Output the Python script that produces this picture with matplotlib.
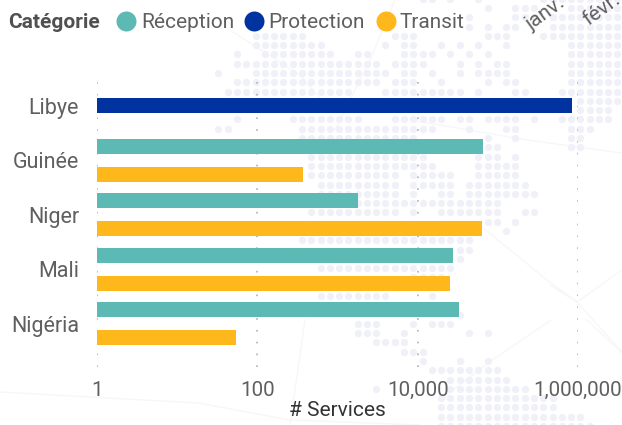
import matplotlib
matplotlib.use("Agg")
import matplotlib.pyplot as plt
from matplotlib.lines import Line2D
from matplotlib.ticker import FixedLocator, FixedFormatter

plt.rcParams['lines.scale_dashes'] = False
plt.rcParams['font.family'] = ['Roboto', 'DejaVu Sans']

categories = ["Libye", "Guinée", "Niger", "Mali", "Nigéria"]
reception = [None, 65000, 1800, 27500, 33000]
protection = [840000, None, None, None, None]
transit = [None, 370, 63000, 25000, 54]
x_ticks = [1, 100, 10000, 1000000]
x_tick_labels = ["1", "100", "10,000", "1,000,000"]
legend_title = "Catégorie"
series_names = ["Réception", "Protection", "Transit"]
top_labels = ["janv.", "févr."]
x_title = "# Services"

TEAL, BLUE, AMBER = "#5DB9B3", "#0033A0", "#FFB81C"
W, H = 622, 425

# decorative dot-map backdrop: row -> runs of columns
backdrop = {
    -1: [(1, 2), (4, 4), (7, 7), (14, 22)], 0: [(8, 8), (11, 13), (17, 22)],
    1: [(6, 6), (11, 13), (15, 22)], 2: [(6, 6), (8, 8), (10, 11), (15, 22)],
    3: [(-17, -12), (-2, 0), (8, 10), (14, 22)],
    4: [(-17, -10), (-3, -3), (-1, 0), (3, 3), (5, 5), (7, 7), (10, 10), (17, 22)],
    5: [(-19, -19), (-16, -9), (-6, -5), (-1, 2), (4, 4), (6, 6), (8, 8), (17, 22)],
    6: [(-19, -4), (-2, 1), (5, 5), (7, 7), (9, 10), (17, 22)],
    7: [(-21, -21), (-17, -3), (-1, 0), (2, 2), (5, 5), (7, 10), (17, 22)],
    8: [(-19, -4), (-2, 0), (3, 3), (8, 8), (10, 11), (17, 22)],
    9: [(-20, -7), (-3, 5), (7, 7), (11, 12), (16, 22)],
    10: [(18, 22)], 11: [(18, 21)],
    12: [(-19, -19), (-13, -6), (-2, 3), (5, 6), (8, 11), (13, 13), (16, 21)],
    13: [(-21, -20), (-12, 2), (6, 6), (10, 11), (17, 19)],
    14: [(-12, 0), (8, 8), (11, 11), (17, 18)], 15: [(8, 9), (17, 18)],
    16: [(-11, 1), (7, 9), (11, 11)], 17: [(-11, 2), (7, 11)],
    18: [(-11, -2), (0, 4), (7, 11)], 19: [(-10, -2), (0, 4), (6, 12)],
    20: [(-10, -2), (0, 0), (3, 4), (6, 13)], 21: [(-7, 9)],
    22: [(-11, -2), (0, 0), (3, 9), (12, 13)], 23: [(8, 9), (11, 11)],
    24: [(10, 10)], 25: [(-12, 6)], 26: [(5, 6)], 27: [(5, 5)],
    28: [(-10, 4)], 29: [(0, 3)], 31: [(-10, -3), (2, 2)], 33: [(5, 5)],
    34: [(-6, -4), (0, 0), (2, 4)], 35: [(-6, -4), (-1, -1), (6, 6), (8, 8)],
    36: [(-4, -1)], 37: [(-1, 1)], 38: [(1, 1), (5, 5), (8, 8)], 39: [(2, 9)],
    40: [(4, 10)], 41: [(-4, -4), (4, 12)], 42: [(3, 15)], 43: [(3, 15)],
    44: [(3, 18)], 45: [(3, 19)],
}
faint_paths = [
    ((0, 392), (198, 403), (290, 420), (420, 425)),
    ((305, 320), (290, 425)),
    ((551, 320), (488, 363), (440, 400)),
    ((587, 320), (622, 353)),
    ((550, 285), (577, 302), (622, 352)),
    ((622, 153), (527, 140), (410, 120)),
    ((482, 227), (547, 280), (577, 302)),
    ((230, 30), (300, 75), (330, 110)),
    ((335, 130), (370, 60), (395, 0)),
    ((577, 302), (622, 270)),
]

fig = plt.figure(figsize=(W / 100, H / 100), dpi=100, facecolor="white")


def to_fig(x, y):
    return x / W, 1 - y / H


for pts in faint_paths:
    xs, ys = zip(*[to_fig(*p) for p in pts])
    fig.add_artist(Line2D(xs, ys, color="#F7F7F7", lw=1.0, zorder=0))

dx, dy = [], []
for row, runs in backdrop.items():
    for a, b in runs:
        for j in range(a, b + 1):
            fx, fy = to_fig(413.3 + 9.28 * j, 8 + 9.29 * row)
            dx.append(fx)
            dy.append(fy)
fig.add_artist(Line2D(dx, dy, ls="none", marker="o", ms=5.2, mfc="#F0F0F8", mec="none", zorder=0))

ax = fig.add_axes([97 / W, 1 - 367 / H, (578 - 97) / W, (367 - 72) / H])
ax.patch.set_alpha(0)
ax.set_xscale("log")
ax.set_xlim(1, 1000000)
ax.set_ylim(4.798, -0.615)
for s in ax.spines.values():
    s.set_visible(False)

off = 14 / 54.5
h = 15 / 54.5
for i, c in enumerate(categories):
    if protection[i] is not None:
        ax.barh(i, protection[i], height=h, color=BLUE, zorder=3)
    if reception[i] is not None:
        ax.barh(i - off, reception[i], height=h, color=TEAL, zorder=3)
    if transit[i] is not None:
        ax.barh(i + off, transit[i], height=h, color=AMBER, zorder=3)

ax.set_yticks(range(len(categories)))
ax.set_yticklabels(categories, fontsize=15.5, color="#5F5F5F")
ax.xaxis.set_major_locator(FixedLocator(x_ticks))
ax.xaxis.set_major_formatter(FixedFormatter(x_tick_labels))
ax.xaxis.set_minor_locator(FixedLocator([]))
ax.tick_params(axis="x", length=0, pad=10, labelsize=14.8, labelcolor="#5F5F5F")
ax.tick_params(axis="y", length=0, pad=13)
ax.grid(axis="x", color="#B0B0B0", lw=1.2, ls=(0, (1.2, 7.3)), zorder=1)
ax.set_axisbelow(True)
ax.set_xlabel(x_title, fontsize=15, color="#333333", labelpad=1)

fig.text(*to_fig(8, 22), legend_title, fontsize=15, fontweight="bold", color="#505050", va="center", ha="left")
for name, col, mx, tx in zip(series_names, [TEAL, BLUE, AMBER], [126, 254, 386], [141, 268, 400]):
    mxf, myf = to_fig(mx, 21)
    fig.add_artist(Line2D([mxf], [myf], ls="none", marker="o", ms=14.4, mfc=col, mec="none"))
    fig.text(*to_fig(tx, 22), name, fontsize=15, color="#5F5F5F", va="center", ha="left")

for lab, x, y in zip(top_labels, [546, 602], [14, 9]):
    fig.text(*to_fig(x, y), lab, fontsize=15, color="#5F5F5F", rotation=36, ha="center", va="center")

fig.savefig("out.png", dpi=100, facecolor="white")
